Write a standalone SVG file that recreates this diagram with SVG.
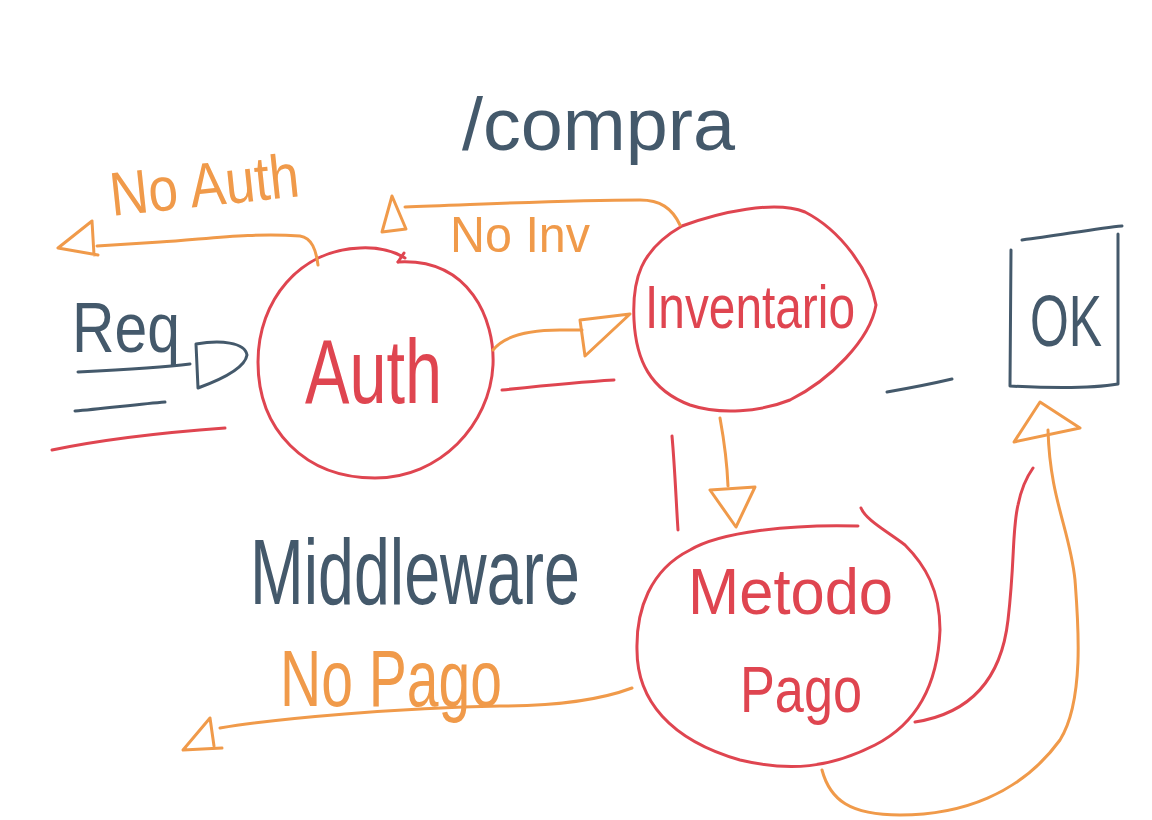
<svg xmlns="http://www.w3.org/2000/svg" width="1152" height="820" viewBox="0 0 1152 820">
<style>
.r{fill:none;stroke:#df4550;stroke-width:3;stroke-linecap:round;stroke-linejoin:round}
.o{fill:none;stroke:#f09a4a;stroke-width:3;stroke-linecap:round;stroke-linejoin:round}
.s{fill:none;stroke:#44596b;stroke-width:3;stroke-linecap:round;stroke-linejoin:round}
.t{font-family:"Liberation Sans",Arial,sans-serif;font-weight:normal}
.tr{fill:#df4550}.to{fill:#f09a4a}.ts{fill:#44596b}
</style>
<rect width="1152" height="820" fill="#ffffff"/>
<g id="title">
<text class="t ts" x="462" y="150" font-size="74" textLength="273" lengthAdjust="spacingAndGlyphs">/compra</text>
<text class="t ts" x="250" y="604" font-size="64" textLength="330" lengthAdjust="spacingAndGlyphs" transform="translate(0,604) scale(1,1.45) translate(0,-604)">Middleware</text>
</g>
<g id="req">
<text class="t ts" x="72" y="352" font-size="70" textLength="108" lengthAdjust="spacingAndGlyphs">Req</text>
<path class="s" d="M78,372 C120,370 160,368 190,364"/>
<path class="s" d="M196,344 C220,340 245,342 247,355 C245,368 220,380 198,388 Z"/>
<path class="s" stroke-width="10" d="M75,411 C100,409 140,404 165,402"/>
<path class="r" d="M52,450 C100,440 170,432 225,428"/>
</g>
<g id="auth">
<path class="r" d="M398,262 C470,258 495,320 493,365 C490,425 440,478 375,478 C305,478 258,430 258,362 C258,300 300,250 360,248 C380,247 395,252 405,258"/>
<path class="r" d="M398,262 L404,253"/>
<text class="t tr" x="305" y="403" font-size="90" textLength="137" lengthAdjust="spacingAndGlyphs">Auth</text>
<path class="r" d="M502,390 C540,386 580,382 614,380"/>
</g>
<g id="inventario">
<path class="r" d="M682,226 C720,212 775,200 805,212 C840,230 870,270 876,305 C870,340 830,380 790,400 C760,412 720,415 690,405 C650,390 636,360 634,320 C632,280 640,250 682,226 Z"/>
<text class="t tr" x="645" y="328" font-size="62" textLength="210" lengthAdjust="spacingAndGlyphs">Inventario</text>
<path class="r" d="M672,436 C675,470 676,500 678,530"/>
</g>
<g id="metodo-pago">
<path class="r" d="M858,526 C790,524 720,532 690,550 C650,570 636,610 637,650 C637,700 670,740 740,760 C790,772 830,768 875,745 C920,722 938,680 940,630 C940,590 925,565 905,545 C885,530 866,520 861,508"/>
<text class="t tr" x="688" y="614" font-size="64" textLength="205" lengthAdjust="spacingAndGlyphs">Metodo</text>
<text class="t tr" x="740" y="712" font-size="64" textLength="122" lengthAdjust="spacingAndGlyphs">Pago</text>
</g>
<g id="ok">
<path class="s" d="M1022,240 C1060,235 1100,228 1122,226"/>
<path class="s" d="M1011,250 L1010,386 C1050,388 1095,388 1118,384 L1118,234"/>
<text class="t ts" x="1030" y="346" font-size="72" textLength="72" lengthAdjust="spacingAndGlyphs">OK</text>
<path class="s" stroke-width="9" d="M887,392 C910,388 935,383 952,379"/>
</g>
<g id="connectors">
<path class="o" d="M318,265 C316,250 312,238 300,236 C250,232 200,240 160,242 C130,244 110,245 97,246"/>
<path class="o" d="M92,221 L58,248 L98,255 M92,221 L94,255"/>
<text class="t to" x="112" y="216" font-size="62" textLength="190" lengthAdjust="spacingAndGlyphs" transform="rotate(-6 112 216)">No Auth</text>
<path class="o" d="M493,350 C505,335 530,330 560,330 L582,330"/>
<path class="o" d="M580,320 L630,314 L585,356 Z"/>
<path class="o" d="M680,225 C672,208 660,200 640,200 C560,200 470,205 405,207"/>
<path class="o" d="M392,196 L382,232 L406,229 Z"/>
<text class="t to" x="450" y="252" font-size="50" textLength="140" lengthAdjust="spacingAndGlyphs">No Inv</text>
<path class="o" d="M720,418 C724,440 727,460 728,486"/>
<path class="o" d="M710,490 L755,487 L736,527 Z"/>
<path class="o" d="M632,688 C600,700 560,706 500,706 C400,708 280,718 220,728"/>
<path class="o" d="M210,718 L183,750 L222,748 M210,718 L214,746"/>
<text class="t to" x="280" y="706" font-size="80" textLength="222" lengthAdjust="spacingAndGlyphs">No Pago</text>
<path class="r" d="M915,722 C960,715 1000,690 1008,620 C1015,560 1012,530 1018,505 C1022,485 1028,475 1033,468"/>
<path class="o" d="M822,770 C830,800 850,815 900,815 C960,815 1020,795 1060,740 C1085,700 1078,620 1075,580 C1070,530 1050,500 1048,430"/>
<path class="o" d="M1040,402 L1080,428 L1014,442 Z"/>
</g>
</svg>
